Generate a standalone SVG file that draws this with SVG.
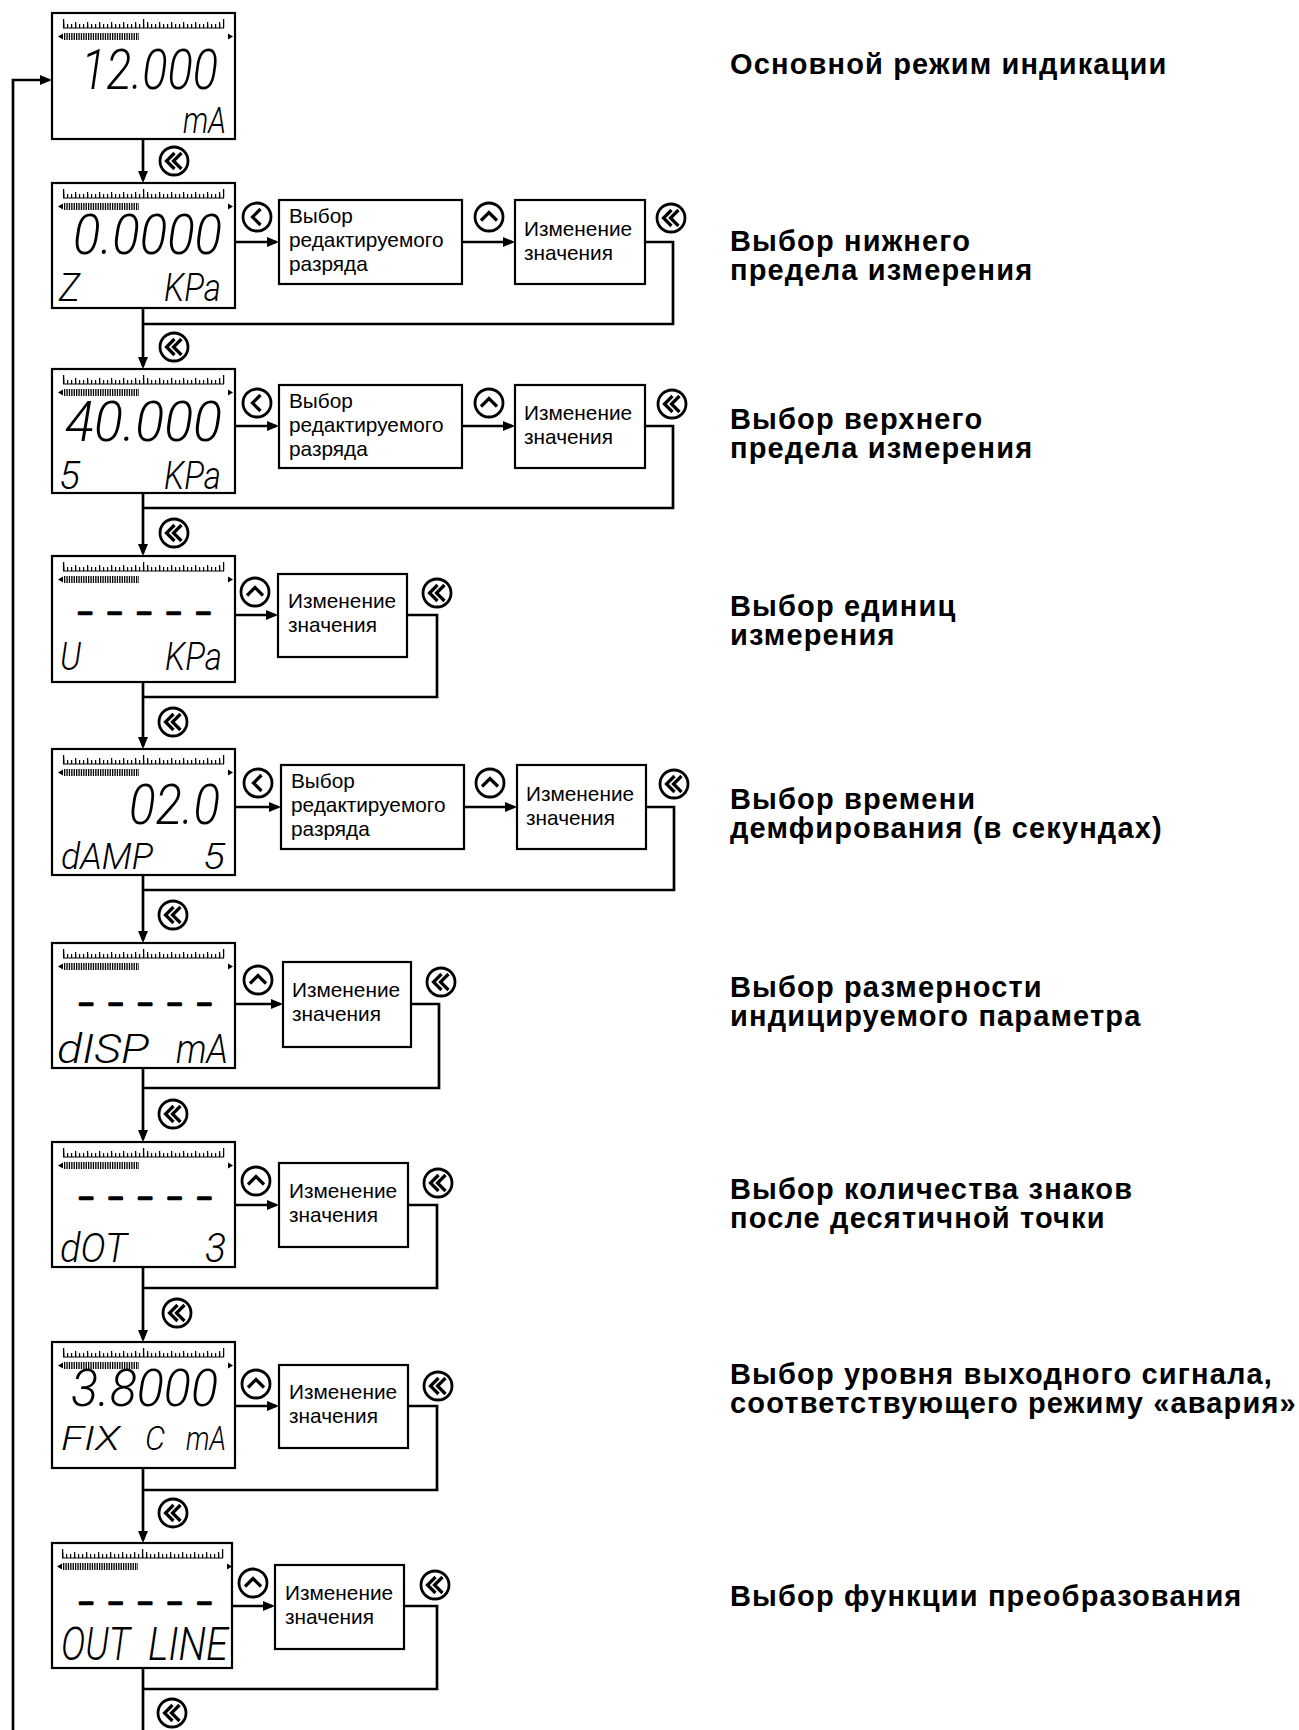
<svg xmlns="http://www.w3.org/2000/svg" xmlns:xlink="http://www.w3.org/1999/xlink" width="1299" height="1730" viewBox="0 0 1299 1730">
<style>
.lcd{fill:#fff;stroke:#000;stroke-width:2.2}
.box{fill:#fff;stroke:#000;stroke-width:2.2}
.ln{fill:none;stroke:#000;stroke-width:2.7}
.bt{font-family:"Liberation Sans",Arial,sans-serif;font-size:20.8px;fill:#000}
.lbl{font-family:"Liberation Sans",Arial,sans-serif;font-size:29px;font-weight:bold;letter-spacing:1.15px;fill:#000}
.seg{font-family:Roboto,"Liberation Sans",Arial,sans-serif;font-weight:300;font-style:italic;fill:#000}
.big{font-size:55px}
.sm{font-size:38px}
.dash{font-family:"Liberation Sans",Arial,sans-serif;font-size:22px;letter-spacing:17.3px;fill:#000;stroke:#000;stroke-width:2.6;stroke-linejoin:round}
.ic{fill:#fff;stroke:#000;stroke-width:2.8}
.chev{fill:none;stroke:#000;stroke-width:3.2}
</style>
<defs>
<marker id="ah" markerUnits="userSpaceOnUse" markerWidth="12" markerHeight="10" refX="9" refY="5" orient="auto">
<path d="M0,0 L12,5 L0,10 z" fill="#000"/>
</marker>
<g id="lcdhead">
<line x1="11" y1="15" x2="172" y2="15" stroke="#000" stroke-width="1.1"/>
<line x1="11" y1="13" x2="172" y2="13" stroke="#000" stroke-width="4" stroke-dasharray="1.2 2.8"/>
<line x1="11" y1="12" x2="172" y2="12" stroke="#000" stroke-width="6" stroke-dasharray="1.2 10.8"/>
<path d="M11.6,6V15M91.6,6V15M171.6,6V15" stroke="#000" stroke-width="1.3"/>
<line x1="12" y1="23.5" x2="87" y2="23.5" stroke="#000" stroke-width="7" stroke-dasharray="1.3 1.1"/>
<polygon points="6,23.5 11,20.5 11,26.5" fill="#000"/>
<polygon points="176,20.5 181,23.5 176,26.5" fill="#000"/>
</g>
<g id="icL"><circle r="14" class="ic"/><path d="M3.5,-8 L-4.5,0 L3.5,8" class="chev"/></g>
<g id="icU"><circle r="14" class="ic"/><path d="M-8,3.5 L0,-4.5 L8,3.5" class="chev"/></g>
<g id="icD"><circle r="14" class="ic"/><path d="M0.5,-8 L-7.5,0 L0.5,8 M7.5,-8 L-0.5,0 L7.5,8" class="chev"/></g>
</defs>
<rect width="1299" height="1730" fill="#fff"/>

<g id="connectors">
<path class="ln" d="M13,1730 V80 H49" marker-end="url(#ah)"/>
<path class="ln" d="M143,139 V180" marker-end="url(#ah)"/>
<path class="ln" d="M235,242 H276" marker-end="url(#ah)"/>
<path class="ln" d="M462,242 H512" marker-end="url(#ah)"/>
<path class="ln" d="M645,242 H673 V324 H143"/>
<path class="ln" d="M143,308 V366" marker-end="url(#ah)"/>
<path class="ln" d="M235,426 H276" marker-end="url(#ah)"/>
<path class="ln" d="M462,426 H512" marker-end="url(#ah)"/>
<path class="ln" d="M645,426 H673 V508 H143"/>
<path class="ln" d="M143,493 V553" marker-end="url(#ah)"/>
<path class="ln" d="M235,615 H275" marker-end="url(#ah)"/>
<path class="ln" d="M407,615 H437 V697 H143"/>
<path class="ln" d="M143,682 V746" marker-end="url(#ah)"/>
<path class="ln" d="M235,807 H278" marker-end="url(#ah)"/>
<path class="ln" d="M464,807 H514" marker-end="url(#ah)"/>
<path class="ln" d="M646,807 H674 V890 H143"/>
<path class="ln" d="M143,875 V940" marker-end="url(#ah)"/>
<path class="ln" d="M235,1004 H280" marker-end="url(#ah)"/>
<path class="ln" d="M411,1004 H439 V1088 H143"/>
<path class="ln" d="M143,1068 V1139" marker-end="url(#ah)"/>
<path class="ln" d="M235,1205 H276" marker-end="url(#ah)"/>
<path class="ln" d="M408,1205 H437 V1288 H143"/>
<path class="ln" d="M143,1267 V1339" marker-end="url(#ah)"/>
<path class="ln" d="M235,1406 H276" marker-end="url(#ah)"/>
<path class="ln" d="M408,1406 H437 V1490 H143"/>
<path class="ln" d="M143,1468 V1540" marker-end="url(#ah)"/>
<path class="ln" d="M232,1606 H272" marker-end="url(#ah)"/>
<path class="ln" d="M404,1606 H437 V1689 H143"/>
<path class="ln" d="M143,1668 V1730"/>
</g>

<g id="button-icons">
<use xlink:href="#icD" x="174" y="161"/>
<use xlink:href="#icL" x="257" y="217"/>
<use xlink:href="#icU" x="489" y="217"/>
<use xlink:href="#icD" x="671" y="218"/>
<use xlink:href="#icD" x="174" y="347"/>
<use xlink:href="#icL" x="257" y="403"/>
<use xlink:href="#icU" x="489" y="403"/>
<use xlink:href="#icD" x="672" y="404"/>
<use xlink:href="#icD" x="174" y="533"/>
<use xlink:href="#icU" x="255" y="592"/>
<use xlink:href="#icD" x="437" y="593"/>
<use xlink:href="#icD" x="173" y="722"/>
<use xlink:href="#icL" x="258" y="783"/>
<use xlink:href="#icU" x="490" y="783"/>
<use xlink:href="#icD" x="674" y="784"/>
<use xlink:href="#icD" x="173" y="915"/>
<use xlink:href="#icU" x="258" y="980"/>
<use xlink:href="#icD" x="441" y="982"/>
<use xlink:href="#icD" x="173" y="1114"/>
<use xlink:href="#icU" x="256" y="1181"/>
<use xlink:href="#icD" x="438" y="1183"/>
<use xlink:href="#icD" x="177" y="1313"/>
<use xlink:href="#icU" x="256" y="1384"/>
<use xlink:href="#icD" x="438" y="1386"/>
<use xlink:href="#icD" x="173" y="1513"/>
<use xlink:href="#icU" x="253" y="1583"/>
<use xlink:href="#icD" x="435" y="1585"/>
<use xlink:href="#icD" x="172" y="1713"/>
</g>

<g id="disp1">
<rect class="lcd" x="52" y="13" width="183" height="126"/>
<use xlink:href="#lcdhead" x="52" y="13"/>
<text class="seg big" x="81" y="89" textLength="137" lengthAdjust="spacingAndGlyphs">12.000</text>
<text class="seg" style="font-size:37px" x="183" y="133" textLength="43" lengthAdjust="spacingAndGlyphs">mA</text>
</g>
<g id="disp2">
<rect class="lcd" x="52" y="183" width="183" height="125"/>
<use xlink:href="#lcdhead" x="52" y="183"/>
<text class="seg big" x="73" y="254" textLength="149" lengthAdjust="spacingAndGlyphs">0.0000</text>
<text class="seg sm" x="59" y="301" textLength="21" lengthAdjust="spacingAndGlyphs">Z</text>
<text class="seg sm" x="164" y="301" textLength="57" lengthAdjust="spacingAndGlyphs">KPa</text>
</g>
<g id="disp3">
<rect class="lcd" x="52" y="369" width="183" height="124"/>
<use xlink:href="#lcdhead" x="52" y="369"/>
<text class="seg big" x="65" y="441" textLength="157" lengthAdjust="spacingAndGlyphs">40.000</text>
<text class="seg sm" x="59" y="489" textLength="21" lengthAdjust="spacingAndGlyphs">5</text>
<text class="seg sm" x="164" y="489" textLength="57" lengthAdjust="spacingAndGlyphs">KPa</text>
</g>
<g id="disp4">
<rect class="lcd" x="52" y="556" width="183" height="126"/>
<use xlink:href="#lcdhead" x="52" y="556"/>
<text class="dash" x="79" y="619">–––––</text>
<text class="seg sm" x="60" y="670" textLength="21" lengthAdjust="spacingAndGlyphs">U</text>
<text class="seg sm" x="165" y="670" textLength="57" lengthAdjust="spacingAndGlyphs">KPa</text>
</g>
<g id="disp5">
<rect class="lcd" x="52" y="749" width="183" height="126"/>
<use xlink:href="#lcdhead" x="52" y="749"/>
<text class="seg big" x="129" y="824" textLength="91" lengthAdjust="spacingAndGlyphs">02.0</text>
<text class="seg" style="font-size:36px" x="61" y="869" textLength="92" lengthAdjust="spacingAndGlyphs">dAMP</text>
<text class="seg" style="font-size:36px" x="203" y="869" textLength="22" lengthAdjust="spacingAndGlyphs">5</text>
</g>
<g id="disp6">
<rect class="lcd" x="52" y="943" width="183" height="125"/>
<use xlink:href="#lcdhead" x="52" y="943"/>
<text class="dash" x="80" y="1010">–––––</text>
<text class="seg" style="font-size:40px" x="57" y="1063" textLength="92" lengthAdjust="spacingAndGlyphs">dISP</text>
<text class="seg" style="font-size:40px" x="176" y="1063" textLength="52" lengthAdjust="spacingAndGlyphs">mA</text>
</g>
<g id="disp7">
<rect class="lcd" x="52" y="1142" width="183" height="125"/>
<use xlink:href="#lcdhead" x="52" y="1142"/>
<text class="dash" x="80" y="1204">–––––</text>
<text class="seg" style="font-size:40px" x="60" y="1262" textLength="67" lengthAdjust="spacingAndGlyphs">dOT</text>
<text class="seg" style="font-size:40px" x="205" y="1262" textLength="21" lengthAdjust="spacingAndGlyphs">3</text>
</g>
<g id="disp8">
<rect class="lcd" x="52" y="1342" width="183" height="126"/>
<use xlink:href="#lcdhead" x="52" y="1342"/>
<text class="seg" style="font-size:52px" x="71" y="1406" textLength="147" lengthAdjust="spacingAndGlyphs">3.8000</text>
<text class="seg" style="font-size:34px" x="61" y="1450" textLength="59" lengthAdjust="spacingAndGlyphs">FIX</text>
<text class="seg" style="font-size:34px" x="145" y="1450" textLength="20" lengthAdjust="spacingAndGlyphs">C</text>
<text class="seg" style="font-size:34px" x="186" y="1450" textLength="40" lengthAdjust="spacingAndGlyphs">mA</text>
</g>
<g id="disp9">
<rect class="lcd" x="52" y="1543" width="180" height="125"/>
<use xlink:href="#lcdhead" x="51" y="1543"/>
<text class="dash" x="80" y="1609">–––––</text>
<text class="seg" style="font-size:46px" x="61" y="1660" textLength="69" lengthAdjust="spacingAndGlyphs">OUT</text>
<text class="seg" style="font-size:46px" x="148" y="1660" textLength="80" lengthAdjust="spacingAndGlyphs">LINE</text>
</g>

<g id="box2a"><rect class="box" x="279" y="200" width="183" height="84"/>
<text class="bt"><tspan x="289" y="223">Выбор</tspan><tspan x="289" y="247">редактируемого</tspan><tspan x="289" y="271">разряда</tspan></text></g>
<g id="box2b"><rect class="box" x="515" y="200" width="130" height="84"/>
<text class="bt"><tspan x="524" y="236">Изменение</tspan><tspan x="524" y="260">значения</tspan></text></g>
<g id="box3a"><rect class="box" x="279" y="385" width="183" height="83"/>
<text class="bt"><tspan x="289" y="408">Выбор</tspan><tspan x="289" y="432">редактируемого</tspan><tspan x="289" y="456">разряда</tspan></text></g>
<g id="box3b"><rect class="box" x="515" y="385" width="130" height="83"/>
<text class="bt"><tspan x="524" y="420">Изменение</tspan><tspan x="524" y="444">значения</tspan></text></g>
<g id="box4"><rect class="box" x="278" y="574" width="129" height="83"/>
<text class="bt"><tspan x="288" y="608">Изменение</tspan><tspan x="288" y="632">значения</tspan></text></g>
<g id="box5a"><rect class="box" x="281" y="765" width="183" height="84"/>
<text class="bt"><tspan x="291" y="788">Выбор</tspan><tspan x="291" y="812">редактируемого</tspan><tspan x="291" y="836">разряда</tspan></text></g>
<g id="box5b"><rect class="box" x="517" y="765" width="129" height="84"/>
<text class="bt"><tspan x="526" y="801">Изменение</tspan><tspan x="526" y="825">значения</tspan></text></g>
<g id="box6"><rect class="box" x="283" y="962" width="128" height="85"/>
<text class="bt"><tspan x="292" y="997">Изменение</tspan><tspan x="292" y="1021">значения</tspan></text></g>
<g id="box7"><rect class="box" x="279" y="1163" width="129" height="84"/>
<text class="bt"><tspan x="289" y="1198">Изменение</tspan><tspan x="289" y="1222">значения</tspan></text></g>
<g id="box8"><rect class="box" x="279" y="1365" width="129" height="83"/>
<text class="bt"><tspan x="289" y="1399">Изменение</tspan><tspan x="289" y="1423">значения</tspan></text></g>
<g id="box9"><rect class="box" x="275" y="1565" width="129" height="84"/>
<text class="bt"><tspan x="285" y="1600">Изменение</tspan><tspan x="285" y="1624">значения</tspan></text></g>

<g id="labels">
<text id="label1" class="lbl" x="730" y="74">Основной режим индикации</text>
<text id="label2" class="lbl"><tspan x="730" y="251">Выбор нижнего</tspan><tspan x="730" y="280">предела измерения</tspan></text>
<text id="label3" class="lbl"><tspan x="730" y="429">Выбор верхнего</tspan><tspan x="730" y="458">предела измерения</tspan></text>
<text id="label4" class="lbl"><tspan x="730" y="616">Выбор единиц</tspan><tspan x="730" y="645">измерения</tspan></text>
<text id="label5" class="lbl"><tspan x="730" y="809">Выбор времени</tspan><tspan x="730" y="838">демфирования (в секундах)</tspan></text>
<text id="label6" class="lbl"><tspan x="730" y="997">Выбор размерности</tspan><tspan x="730" y="1026">индицируемого параметра</tspan></text>
<text id="label7" class="lbl"><tspan x="730" y="1199">Выбор количества знаков</tspan><tspan x="730" y="1228">после десятичной точки</tspan></text>
<text id="label8" class="lbl"><tspan x="730" y="1384">Выбор уровня выходного сигнала,</tspan><tspan x="730" y="1413">соответствующего режиму «авария»</tspan></text>
<text id="label9" class="lbl" x="730" y="1606">Выбор функции преобразования</text>
</g>
</svg>
